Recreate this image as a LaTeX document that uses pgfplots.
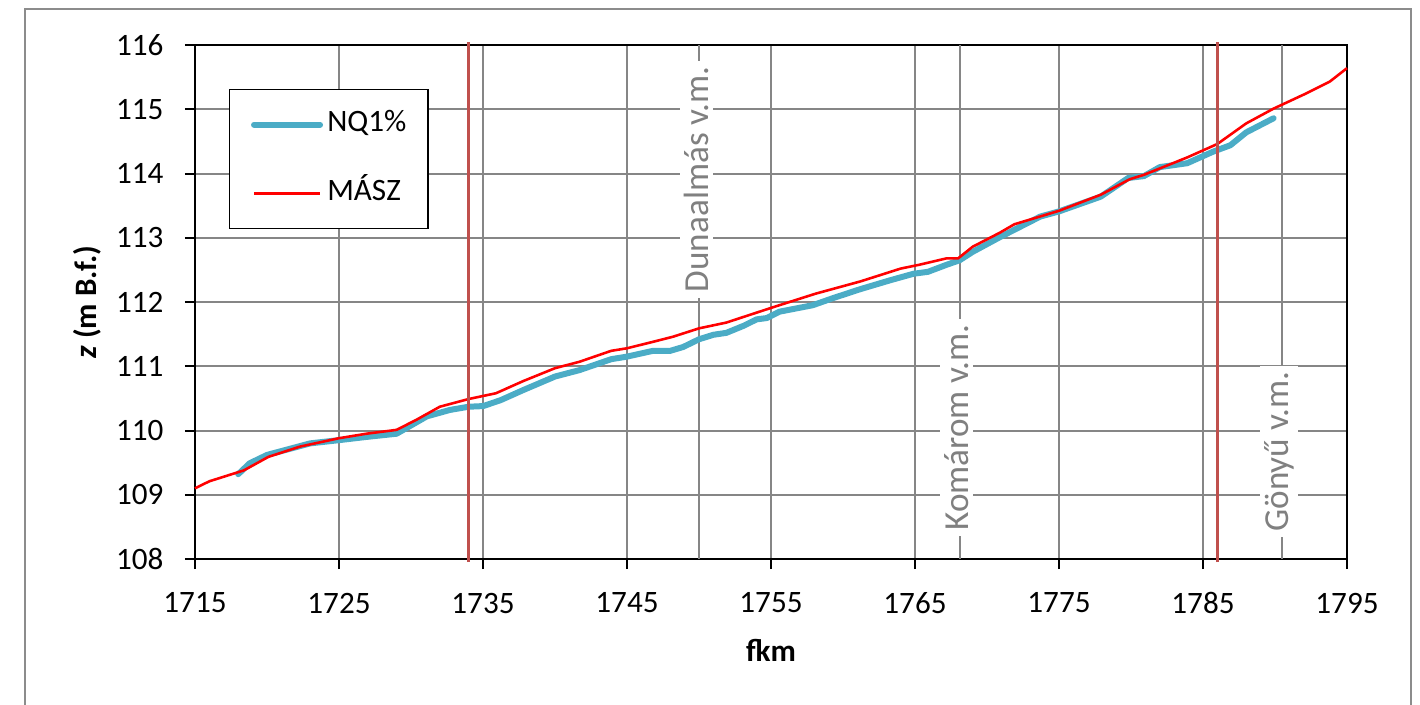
\documentclass[border=0pt]{standalone}
\usepackage{fontspec}
\setmainfont{Carlito}
\usepackage{pgfplots}
\pgfplotsset{compat=1.18}
\definecolor{nqblue}{RGB}{75,172,198}
\definecolor{maszred}{RGB}{255,0,0}
\definecolor{darkred}{RGB}{192,80,77}
\definecolor{gridgray}{RGB}{134,134,134}
\definecolor{labgray}{RGB}{128,128,128}
\definecolor{framegray}{RGB}{140,140,140}
\begin{document}
\begin{tikzpicture}
\path[use as bounding box] (-68.25pt,-50.75pt) rectangle (428.75pt,195.65pt);
\begin{axis}[
  scale only axis,
  width=403.2pt, height=179.9pt,
  xmin=1715, xmax=1795, ymin=108, ymax=116,
  xtick={1715,1725,...,1795},
  ytick={108,109,...,116},
  /pgf/number format/assume math mode=true,
  /pgf/number format/1000 sep={},
  tick align=outside, tick pos=left,
  major tick length=3.5pt,
  every tick/.style={black, line width=0.7pt},
  axis line style={black, line width=0.7pt},
  grid=major,
  major grid style={gridgray, line width=0.7pt},
  ticklabel style={font=\fontsize{10.9}{13}\selectfont},
  xticklabel style={anchor=center, inner sep=0pt, yshift=-11.9pt},
  yticklabel style={anchor=east, inner sep=0pt, xshift=-7.35pt},
  xlabel={\textbf{fkm}},
  ylabel={\textbf{\textit{z} (m B.f.)}},
  label style={font=\fontsize{10.9}{13}\selectfont},
  xlabel style={at={(axis description cs:0.5,-0.1780)}, anchor=center, inner sep=0pt},
  ylabel style={at={(axis description cs:-0.0935,0.5)}, anchor=center, inner sep=0pt},
  legend style={at={(0.0295,0.9144)}, anchor=north west, draw=black, line width=0.45pt,
    inner xsep=7.5pt, inner ysep=7.25pt, row sep=14.15pt, column sep=1.5pt,
    nodes={inner sep=0pt, text height=7.5pt, text depth=2.5pt},
    font=\fontsize{10.9}{13}\selectfont},
  legend cell align=left,
  legend image code/.code={\draw[#1] (0pt,0pt) -- (23.1pt,0pt);},
  clip=false,
]
% station lines (gauges)
\addplot[gridgray, line width=0.7pt, forget plot] coordinates {(1750,108) (1750,116)};
\addplot[gridgray, line width=0.7pt, forget plot] coordinates {(1768.1,108) (1768.1,116)};
\addplot[gridgray, line width=0.7pt, forget plot] coordinates {(1790.5,108) (1790.5,116)};
\node[rotate=90, fill=white, text=labgray, inner xsep=2pt, inner ysep=1.5pt,
  font=\fontsize{12.3}{14}\selectfont] at (axis cs:1749.8,113.91) {Dunaalmás v.m.};
\node[rotate=90, fill=white, text=labgray, inner xsep=2pt, inner ysep=1.5pt,
  font=\fontsize{12.3}{14}\selectfont] at (axis cs:1767.9,110.05) {Komárom v.m.};
\node[rotate=90, fill=white, text=labgray, inner xsep=2pt, inner ysep=1.5pt,
  font=\fontsize{12.3}{14}\selectfont] at (axis cs:1790.3,109.67) {Gönyű v.m.};
% NQ1%
\addplot[nqblue, line width=2.1pt, line cap=round, line join=round] coordinates {
(1718,109.32) (1718.8,109.49) (1720,109.62) (1723,109.80) (1725,109.85)
(1726.9,109.90) (1729,109.95) (1731.1,110.22) (1732.7,110.32) (1734,110.37)
(1735,110.38) (1736.2,110.47) (1737.8,110.63) (1740,110.84) (1741.7,110.94)
(1743.9,111.11) (1745,111.15) (1746.8,111.24) (1748,111.24) (1748.9,111.30)
(1750,111.42) (1751,111.49) (1751.9,111.52) (1753.1,111.63) (1754,111.73)
(1754.7,111.75) (1755.6,111.85) (1757.9,111.95) (1759.3,112.06) (1761.2,112.20)
(1762.1,112.26) (1763.3,112.34) (1764.9,112.44) (1765.9,112.47) (1767.2,112.58)
(1768.1,112.65) (1769,112.78) (1770.9,113.01) (1773.7,113.33) (1775,113.41)
(1777.9,113.64) (1779.8,113.93) (1780.9,113.96) (1782,114.10) (1783.9,114.16)
(1785.7,114.34) (1786.9,114.44) (1788,114.64) (1789.9,114.86)
};
\addlegendentry{NQ1\%}
% MASZ
\addplot[maszred, line width=0.9pt, line join=round] coordinates {
(1715,109.10) (1716,109.21) (1718.4,109.38) (1720.1,109.59) (1722.3,109.75)
(1725,109.88) (1726.9,109.95) (1729,110.01) (1730.4,110.17) (1732,110.37)
(1734,110.49) (1735.9,110.58) (1737.8,110.77) (1740,110.97) (1741.7,111.07)
(1743.9,111.24) (1745,111.28) (1746.8,111.38) (1748.2,111.46) (1750,111.59)
(1751.9,111.68) (1753.8,111.82) (1755.3,111.93) (1758.1,112.13) (1761.2,112.32)
(1764,112.52) (1765.3,112.58) (1767.2,112.68) (1768,112.68) (1769,112.86)
(1770.9,113.08) (1771.9,113.21) (1775,113.42) (1777.9,113.67) (1779.9,113.91)
(1780.9,113.98) (1783.9,114.25) (1786,114.46) (1788,114.78) (1789.9,115.01)
(1792.2,115.25) (1793.8,115.43) (1795,115.64)
};
\addlegendentry{MÁSZ}
% boundary lines
\addplot[darkred, line width=1.2pt, forget plot] coordinates {(1734,107.95) (1734,116.05)};
\addplot[darkred, line width=1.2pt, forget plot] coordinates {(1786,107.95) (1786,116.05)};
\end{axis}
\draw[framegray, line width=0.7pt] (-59.5pt,-60pt) -- (-59.5pt,192.5pt) -- (425.6pt,192.5pt) -- (425.6pt,-60pt);
\end{tikzpicture}
\end{document}
